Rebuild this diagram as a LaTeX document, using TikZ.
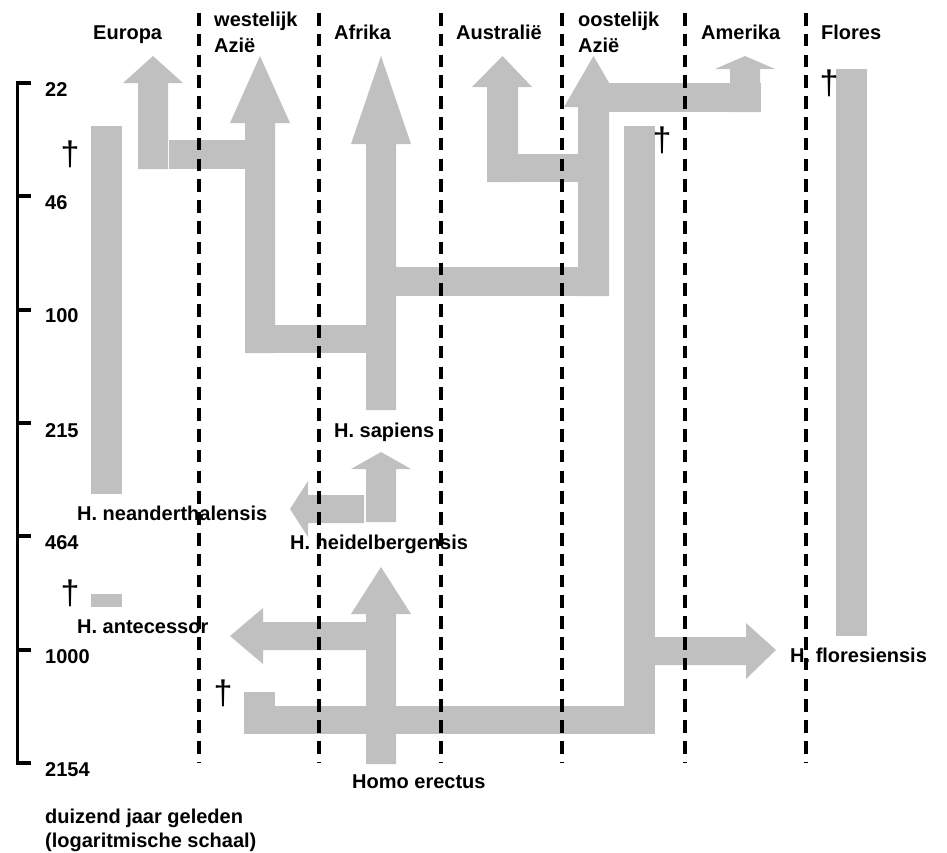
\documentclass[tikz,border=0pt]{standalone}
\usepackage{fontspec}
\setmainfont{Liberation Sans}
\usepackage{xcolor}
\definecolor{bandgrey}{RGB}{192,192,192}

\begin{document}
\begin{tikzpicture}[x=1pt,y=-1pt,
    band/.style={fill=bandgrey},
    border/.style={line width=3.5pt,dash pattern=on 12.5pt off 8.3pt}]
  \useasboundingbox (0,0) rectangle (947,852);

  % Europa
  \fill[band] (91,126) rectangle (122,494);
  \fill[band] (91,594) rectangle (122,607);
  \fill[band] (138,169) -- (138,83) -- (123,83) -- (153,56) -- (183,83) -- (168,83) -- (168,169) -- cycle;
  \fill[band] (169,140) rectangle (245,169);

  % westelijk Azie and Afrika
  \fill[band] (245,353) -- (245,123) -- (230,123) -- (260,56) -- (290,123) -- (275,123) -- (275,353) -- cycle;
  \fill[band] (245,325) rectangle (396,353);
  \fill[band] (366,410) -- (366,144) -- (351,144) -- (381,56) -- (411,144) -- (396,144) -- (396,410) -- cycle;
  \fill[band] (366,522) -- (366,469) -- (351,469) -- (381,452) -- (411,469) -- (396,469) -- (396,522) -- cycle;
  \fill[band] (364,495) -- (308,495) -- (308,481) -- (290,509) -- (308,537) -- (308,523) -- (364,523) -- cycle;
  \fill[band] (366,764) -- (366,614) -- (351,614) -- (381,567) -- (411,614) -- (396,614) -- (396,764) -- cycle;
  \fill[band] (366,622) -- (263,622) -- (263,608) -- (230,636) -- (263,664) -- (263,650) -- (366,650) -- cycle;
  \fill[band] (244,692) rectangle (275,706);
  \fill[band] (244,706) rectangle (655,734);

  % Australie, oostelijk Azie, Amerika
  \fill[band] (396,267) rectangle (609,296);
  \fill[band] (578,296) -- (578,107) -- (564,107) -- (593.5,56) -- (623,107) -- (609,107) -- (609,296) -- cycle;
  \fill[band] (593,83) rectangle (761,112);
  \fill[band] (730,112) -- (730,69) -- (715,69) -- (745,56) -- (775,69) -- (760,69) -- (760,112) -- cycle;
  \fill[band] (487,182) -- (487,87) -- (472,87) -- (502.5,56) -- (532,87) -- (518,87) -- (518,182) -- cycle;
  \fill[band] (487,154) rectangle (578,182);
  \fill[band] (624,126) rectangle (655,734);
  \fill[band] (655,637) -- (746,637) -- (746,623) -- (776,650) -- (746,679) -- (746,665) -- (655,665) -- cycle;

  % Flores
  \fill[band] (836,69) rectangle (867,636);

  \begin{scope}[every node/.style={font=\bfseries\fontsize{20}{24}\selectfont,anchor=base west,inner sep=0pt}]
    \node (europa) at (93,39) {Europa};
    \node (westazie) at (214,26) {westelijk};
    \node (westazie2) at (214,52) {Azië};
    \node (afrika) at (334,39) {Afrika};
    \node (australie) at (456,39) {Australië};
    \node (oostazie) at (578,26) {oostelijk};
    \node (oostazie2) at (578,52) {Azië};
    \node (amerika) at (701,39) {Amerika};
    \node (flores) at (821,39) {Flores};

    \node (sapiens) at (334,437) {H. sapiens};
    \node (neanderthal) at (77,520) {H. neanderthalensis};
    \node (heidelberg) at (290,549) {H. heidelbergensis};
    \node (antecessor) at (77,633) {H. antecessor};
    \node (floresiensis) at (790,662) {H. floresiensis};
    \node (erectus) at (352,788) {Homo erectus};

    \node (t22) at (45,96) {22};
    \node (t46) at (45,209) {46};
    \node (t100) at (45,322) {100};
    \node (t215) at (45,437) {215};
    \node (t464) at (45,549) {464};
    \node (t1000) at (45,663) {1000};
    \node (t2154) at (45,776) {2154};
    \node (unit) at (45,823) {duizend jaar geleden};
    \node (scale) at (45,847) {(logaritmische schaal)};
  \end{scope}

  \begin{scope}[every node/.style={font=\fontsize{34}{40}\selectfont,inner sep=0pt}]
    \node (dagger1) at (70,154) {†};
    \node (dagger2) at (662,140) {†};
    \node (dagger3) at (829,83) {†};
    \node (dagger4) at (70,593) {†};
    \node (dagger5) at (223,693) {†};
  \end{scope}

  % time axis
  \coordinate (axtop) at (17,83);
  \coordinate (axbot) at (17,763);
  \draw[line width=3pt] (axtop) -- (axbot);
  \begin{scope}[line width=4pt]
    \draw (15.5,83) -- (31,83);
    \draw (15.5,196.3) -- (31,196.3);
    \draw (15.5,309.7) -- (31,309.7);
    \draw (15.5,423) -- (31,423);
    \draw (15.5,536.3) -- (31,536.3);
    \draw (15.5,649.7) -- (31,649.7);
    \draw (15.5,763) -- (31,763);
  \end{scope}

  % region borders
  \draw[border] (199,13) -- (199,763);
  \draw[border] (319,13) -- (319,763);
  \draw[border] (441,13) -- (441,763);
  \draw[border] (562,13) -- (562,763);
  \draw[border] (685,13) -- (685,763);
  \draw[border] (806,13) -- (806,763);
\end{tikzpicture}
\end{document}
